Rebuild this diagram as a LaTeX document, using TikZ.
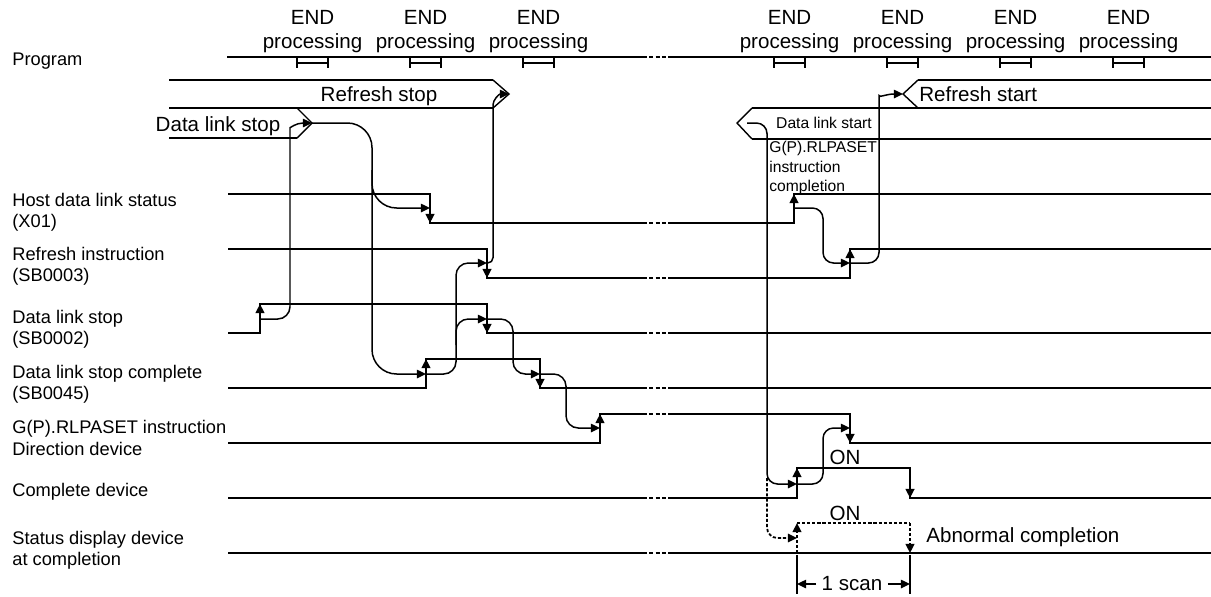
\documentclass[tikz,border=0pt]{standalone}
\usepackage{fontspec}
\setmainfont{Liberation Sans}
\usetikzlibrary{
    arrows.meta,
    calc
}

\begin{document}
\begin{tikzpicture}[
    x=0.02cm, y=-0.02cm,
    signal/.style={line width=1.15pt},
    chevron/.style={line width=0.8pt},
    end_tick/.style={line width=0.85pt},
    brk/.style={line width=1.15pt, dash pattern=on 2.2pt off 1.4pt},
    edge_arrow/.style={line width=1.15pt, -{Triangle[length=5.2pt,width=5pt]}},
    cause/.style={line width=0.85pt, -{Triangle[length=5.2pt,width=4.8pt]}},
    abnormal/.style={line width=1pt, dash pattern=on 1.8pt off 1.1pt},
    sig_name/.style={font=\fontsize{10.4}{12.2}\selectfont, align=left, anchor=west, inner sep=0pt},
    txt_big/.style={font=\fontsize{11.7}{13.6}\selectfont, inner sep=0pt},
    txt_small/.style={font=\fontsize{8.9}{11}\selectfont, inner sep=0pt, align=left}
]

% Define positioning
\pgfmathsetmacro{\xs}{228}
\pgfmathsetmacro{\xa}{643}
\pgfmathsetmacro{\xb}{672}
\pgfmathsetmacro{\xe}{1211}

\useasboundingbox (0,0) rectangle (1211,596);

% ============================== SIGNAL NAMES ==============================
\node[sig_name] (lbl_program) at (12,61) {Program};
\node[sig_name] (lbl_host) at (12,212) {Host data link status\\(X01)};
\node[sig_name] (lbl_refresh) at (12,266) {Refresh instruction\\(SB0003)};
\node[sig_name] (lbl_dlstop) at (12,329) {Data link stop\\(SB0002)};
\node[sig_name] (lbl_dlsc) at (12,384) {Data link stop complete\\(SB0045)};
\node[sig_name] (lbl_dir) at (12,438) {G(P).RLPASET instruction\\Direction device};
\node[sig_name] (lbl_cmp) at (12,492) {Complete device};
\node[sig_name] (lbl_sts) at (12,550) {Status display device\\at completion};

% ============================== PROGRAM ==============================
\draw[signal] (227,57) -- (\xa,57) edge[brk] (\xb,57) (\xb,57) -- (\xe,57);
\foreach \x [count=\i] in {297,410,523,774,887,1000,1113} {
    \draw[end_tick] (\x,58) -- (\x,68) (\x,63) -- (\x+31,63) (\x+31,58) -- (\x+31,68);
    \node[txt_big, anchor=south, align=center] (end_\i) at (\x+15.5,53) {END\\processing};
}

% ============================== REFRESH / DATA LINK STOP ==============================
\draw[signal] (169,80) -- (493,80);
\draw[signal] (169,108) -- (493,108);
\draw[signal] (169,138) -- (297,138);
\draw[chevron] (493,80) -- (509,94) -- (493,108);
\draw[chevron] (297,108) -- (312,123) -- (297,138);
\coordinate (rstop_tip) at (509,94);
\coordinate (dlstop_tip) at (312,123);
\node[txt_big] (refresh_stop) at (379,96) {Refresh stop};
\node[txt_big] (dl_stop_txt) at (218,126) {Data link stop};

% ============================== REFRESH / DATA LINK START ==============================
\draw[signal] (918,80) -- (\xe,80);
\draw[signal] (752,108) -- (\xe,108);
\draw[signal] (752,139) -- (\xe,139);
\draw[chevron] (918,80) -- (903,94) -- (918,108);
\draw[chevron] (752,108) -- (737,123) -- (752,139);
\coordinate (rstart_tip) at (903,94);
\coordinate (dlstart_tip) at (747,123);
\node[txt_big, anchor=west] (refresh_start) at (919,94) {Refresh start};
\node[txt_small] (dl_start_txt) at (824,123) {Data link start};
\node[txt_small, anchor=north west] (rlpaset_txt) at (769,141) {G(P).RLPASET\\instruction\\completion};

% ============================== SIGNALS ==============================
% Host data link status (X01)
\draw[signal] (\xs,194) -- (430,194) -- (430,223) -- (\xa,223) edge[brk] (\xb,223)
    (\xb,223) -- (794,223) -- (794,194) -- (\xe,194);
% Refresh instruction (SB0003)
\draw[signal] (\xs,249) -- (487,249) -- (487,278) -- (\xa,278) edge[brk] (\xb,278)
    (\xb,278) -- (850,278) -- (850,249) -- (\xe,249);
% Data link stop (SB0002)
\draw[signal] (\xs,333) -- (260,333) -- (260,304) -- (487,304) -- (487,333) -- (\xa,333) edge[brk] (\xb,333)
    (\xb,333) -- (\xe,333);
% Data link stop complete (SB0045)
\draw[signal] (\xs,388) -- (426,388) -- (426,359) -- (540,359) -- (540,388) -- (\xa,388) edge[brk] (\xb,388)
    (\xb,388) -- (\xe,388);
% Direction device
\draw[signal] (\xs,443) -- (600,443) -- (600,414) -- (\xa,414) edge[brk] (\xb,414)
    (\xb,414) -- (850,414) -- (850,443) -- (\xe,443);
% Complete device
\draw[signal] (\xs,498) -- (\xa,498) edge[brk] (\xb,498)
    (\xb,498) -- (797,498) -- (797,468) -- (910,468) -- (910,498) -- (\xe,498);
% Status display device at completion
\draw[signal] (\xs,553) -- (\xa,553) edge[brk] (\xb,553) (\xb,553) -- (\xe,553);
\draw[abnormal] (797,523) -- (910,523);
\draw[abnormal, -{Triangle[length=5.2pt,width=5pt]}] (797,553) -- (797,523);
\draw[abnormal, -{Triangle[length=5.2pt,width=5pt]}] (910,523) -- (910,553);

% Edge arrows
\foreach \x/\ya/\yb in {430/194/223, 794/223/194, 487/249/278, 850/278/249,
    260/333/304, 487/304/333, 426/388/359, 540/359/388,
    600/443/414, 850/414/443, 797/498/468, 910/468/498} {
    \draw[edge_arrow] (\x,\ya) -- (\x,\yb);
}

% Events
\coordinate (host_fall) at (430,208);
\coordinate (host_rise) at (794,208);
\coordinate (ref_fall) at (487,263);
\coordinate (ref_rise) at (850,263);
\coordinate (dls_rise) at (260,319);
\coordinate (dls_fall) at (487,319);
\coordinate (dlsc_rise) at (426,374);
\coordinate (dlsc_fall) at (540,374);
\coordinate (dir_rise) at (600,428);
\coordinate (dir_fall) at (850,428);
\coordinate (cmp_rise) at (797,484);
\coordinate (sts_rise) at (797,538);

% ============================== CAUSE AND EFFECT ==============================
\draw[cause, rounded corners=7pt] (dls_rise) -| (290,140) .. controls (290,128) and (296,123) .. (dlstop_tip);
\draw[cause, rounded corners=14pt] (dlstop_tip) -| (372,374) -- (dlsc_rise);
\draw[cause, rounded corners=14pt] (372,170) |- (host_fall);
\draw[cause, rounded corners=7pt] (dlsc_rise) -| (456,263) -- (ref_fall);
\draw[cause, rounded corners=7pt] (456,345) |- (dls_fall);
\draw[cause, rounded corners=7pt] (dls_fall) -| (513,374) -- (dlsc_fall);
\draw[cause, rounded corners=7pt] (dlsc_fall) -| (566,428) -- (dir_rise);
\draw[cause, rounded corners=3pt] (ref_fall) -| (493,110) .. controls (493,100) and (499,94) .. (rstop_tip);

\draw[cause, rounded corners=6pt] (dlstart_tip) -| (767,484) -- (cmp_rise);
\draw[abnormal, -{Triangle[length=5.2pt,width=4.8pt]}, rounded corners=6pt] (767,478) |- (sts_rise);
\draw[cause, rounded corners=6pt] (host_rise) -| (823,263) -- (ref_rise);
\draw[cause, rounded corners=6pt] (ref_rise) -| (879,106) .. controls (879,98) and (886,94) .. (rstart_tip);
\draw[cause, rounded corners=6pt] (cmp_rise) -| (823,428) -- (dir_fall);

% ============================== NOTES ==============================
\node[txt_big] (on_cmp) at (845,457) {ON};
\node[txt_big] (on_sts) at (845,513) {ON};
\node[txt_big, anchor=west] (abn_txt) at (926,537) {Abnormal completion};

\coordinate (scan_l) at (797,584);
\coordinate (scan_r) at (910,584);
\draw[end_tick] (797,555) -- (797,594) (910,555) -- (910,594);
\node[txt_big, inner xsep=3pt] (scan_txt) at (852,584) {1 scan};
\draw[cause] (scan_txt.west) -- (scan_l);
\draw[cause] (scan_txt.east) -- (scan_r);

\end{tikzpicture}
\end{document}
